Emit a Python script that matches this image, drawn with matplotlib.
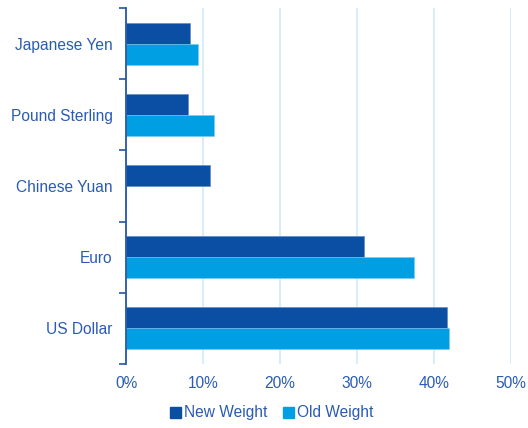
import numpy as np
import matplotlib.pyplot as plt
from matplotlib.patches import Patch

# Currency weights (percent)
currencies = ['Japanese Yen', 'Pound Sterling', 'Chinese Yuan', 'Euro', 'US Dollar']
newWeight = [8.3, 8.1, 10.9, 30.9, 41.7]
oldWeight = [9.4, 11.4, 0, 37.4, 41.9]
xticks = [0, 10, 20, 30, 40, 50]

darkBlue = '#0A4FA3'
lightBlue = '#009FE3'
textColor = '#2A5BB5'
gridColor = '#D2E9F7'

plt.rcParams['font.family'] = ['Liberation Sans', 'DejaVu Sans']

fig = plt.figure(figsize=(5.28, 4.28), dpi=100)
ax = fig.add_axes([126 / 528, 1 - 364 / 428, 385 / 528, 356 / 428])

pos = np.arange(len(currencies))
h = 0.295
ax.barh(pos - h / 2, newWeight, height=h, color=darkBlue, edgecolor='#5C86C4', linewidth=0.4, zorder=3)
ax.barh(pos + h / 2, oldWeight, height=h, color=lightBlue, edgecolor='#7CCAF0', linewidth=0.4, zorder=3)

ax.set_ylim(len(currencies) - 0.5, -0.5)
ax.set_xlim(0, 50)

ax.set_yticks(pos)
ax.set_yticklabels(currencies)
ax.set_yticks(np.arange(-0.5, len(currencies)), minor=True)
ax.tick_params(axis='y', which='major', length=0, pad=9.5, labelsize=11.2, labelcolor=textColor)
ax.tick_params(axis='y', which='minor', length=5, width=1.2, color='#2456A6', direction='out')

ax.set_xticks(xticks)
ax.set_xticklabels([str(t) + '%' for t in xticks])
ax.tick_params(axis='x', length=0, pad=9, labelsize=11.2, labelcolor=textColor)

for t in xticks[1:]:
    ax.axvline(t, color=gridColor, linewidth=1.2, zorder=1)

for s in ['top', 'right', 'bottom']:
    ax.spines[s].set_visible(False)
ax.spines['left'].set_color('#2456A6')
ax.spines['left'].set_linewidth(1.3)
ax.spines['left'].set_zorder(4)

handles = [Patch(color=darkBlue, label='New Weight'), Patch(color=lightBlue, label='Old Weight')]
fig.legend(handles=handles, loc='center', bbox_to_anchor=(272 / 528, 1 - 413 / 428), ncol=2,
           frameon=False, fontsize=11.2, labelcolor=textColor, handlelength=0.7, handleheight=0.7,
           handletextpad=0.2, columnspacing=1.0)

plt.savefig('out.png', dpi=100)
